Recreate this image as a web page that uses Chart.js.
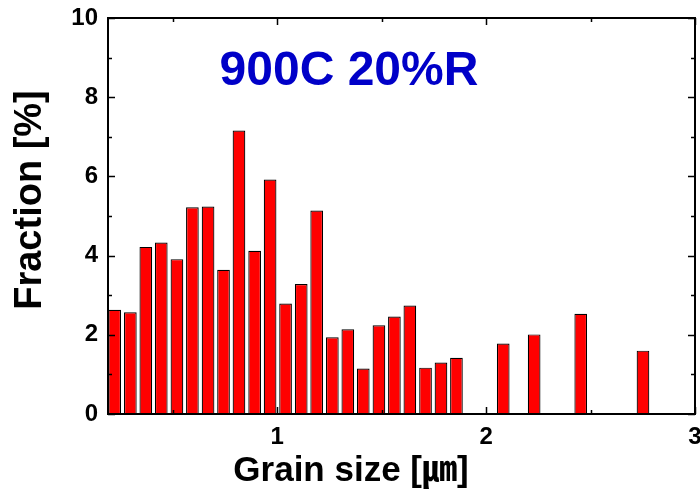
<!DOCTYPE html>
<html>
<head>
<meta charset="utf-8">
<script src="https://cdn.jsdelivr.net/npm/chart.js@4/dist/chart.umd.min.js"></script>
<style>
  html, body { margin: 0; padding: 0; background: #fff; }
  #wrap { width: 700px; height: 492px; }
</style>
</head>
<body>
<div id="wrap"><canvas id="c" width="700" height="492"></canvas></div>
<script>
// ---- data ----
const binCenters = [0.222, 0.297, 0.371, 0.445, 0.520, 0.594, 0.669, 0.743, 0.817, 0.892,
                    0.966, 1.040, 1.115, 1.189, 1.264, 1.338, 1.412, 1.487, 1.561, 1.635,
                    1.710, 1.784, 1.858, 2.082, 2.230, 2.453, 2.751];
const fractions  = [2.63, 2.57, 4.22, 4.33, 3.91, 5.22, 5.24, 3.64, 7.16, 4.12,
                    5.92, 2.79, 3.28, 5.14, 1.94, 2.14, 1.15, 2.24, 2.46, 2.74,
                    1.17, 1.30, 1.42, 1.78, 2.01, 2.53, 1.60];
const xTickValues = [1, 2, 3];
const xMinorTicks = [0.5, 1.5, 2.5];
const yTickValues = [0, 2, 4, 6, 8, 10];
const yMinorTicks = [1, 3, 5, 7, 9];
const chartTitle = '900C 20%R';
const xTitle = 'Grain size [\u339B]';
const yTitle = 'Fraction [%]';

const FONT = '"Liberation Sans", Arial, "Noto Sans CJK JP", sans-serif';

const framePlugin = {
  id: 'frame',
  afterDatasetsDraw(chart) {
    const { ctx, chartArea: a, scales: { x, y } } = chart;
    ctx.save();
    ctx.strokeStyle = '#000';
    ctx.lineWidth = 2;
    ctx.strokeRect(a.left, a.top, a.right - a.left, a.bottom - a.top);
    ctx.lineWidth = 1.5;
    ctx.beginPath();
    const yt = (vals, len) => vals.forEach(v => {
      const p = Math.round(y.getPixelForValue(v)) + 0.5;
      ctx.moveTo(a.left, p); ctx.lineTo(a.left + len, p);
      ctx.moveTo(a.right, p); ctx.lineTo(a.right - len, p);
    });
    const xt = (vals, len) => vals.forEach(v => {
      const p = Math.round(x.getPixelForValue(v)) + 0.5;
      ctx.moveTo(p, a.bottom); ctx.lineTo(p, a.bottom - len);
      ctx.moveTo(p, a.top); ctx.lineTo(p, a.top + len);
    });
    yt(yTickValues, 7); yt(yMinorTicks, 4);
    xt(xTickValues, 7); xt(xMinorTicks, 4);
    ctx.stroke();
    ctx.restore();
  },
  afterDraw(chart) {
    const { ctx } = chart;
    ctx.save();
    ctx.textAlign = 'center';
    ctx.textBaseline = 'alphabetic';
    // chart title inside the plot
    ctx.fillStyle = '#0000c8';
    ctx.font = 'bold 48px ' + FONT;
    ctx.fillText(chartTitle, 349, 85);
    // x axis title
    ctx.fillStyle = '#000';
    ctx.font = 'bold 35px ' + FONT;
    ctx.fillText(xTitle, 351, 481);
    // y axis title
    ctx.font = 'bold 38px ' + FONT;
    ctx.translate(41, 200);
    ctx.rotate(-Math.PI / 2);
    ctx.fillText(yTitle, 0, 0);
    ctx.restore();
  }
};

new Chart(document.getElementById('c'), {
  type: 'bar',
  data: {
    datasets: [{
      data: binCenters.map((c, i) => ({ x: c, y: fractions[i] })),
      backgroundColor: '#ff0000',
      borderColor: '#000000',
      borderWidth: 1.2,
      barPercentage: 0.82,
      categoryPercentage: 1.0
    }]
  },
  options: {
    responsive: false,
    animation: false,
    devicePixelRatio: 1,
    layout: { padding: { top: 18, right: 5, left: 0, bottom: 0 } },
    plugins: { legend: { display: false }, tooltip: { enabled: false }, title: { display: false } },
    scales: {
      x: {
        type: 'linear',
        min: 0.19, max: 3,
        offset: false,
        grid: { display: false, drawTicks: false, offset: false },
        border: { display: false },
        ticks: { padding: 9, color: '#000', font: { family: FONT, size: 24, weight: 'bold' } },
        afterBuildTicks: s => { s.ticks = xTickValues.map(v => ({ value: v })); },
        afterFit: s => { s.height = 78; s.paddingLeft = 0; s.paddingRight = 0; }
      },
      y: {
        min: 0, max: 10,
        grid: { display: false, drawTicks: false },
        border: { display: false },
        ticks: { padding: 10, color: '#000', font: { family: FONT, size: 24, weight: 'bold' } },
        afterBuildTicks: s => { s.ticks = yTickValues.map(v => ({ value: v })); },
        afterFit: s => { s.width = 108; s.paddingTop = 0; s.paddingBottom = 0; }
      }
    }
  },
  plugins: [framePlugin]
});
</script>
</body>
</html>
